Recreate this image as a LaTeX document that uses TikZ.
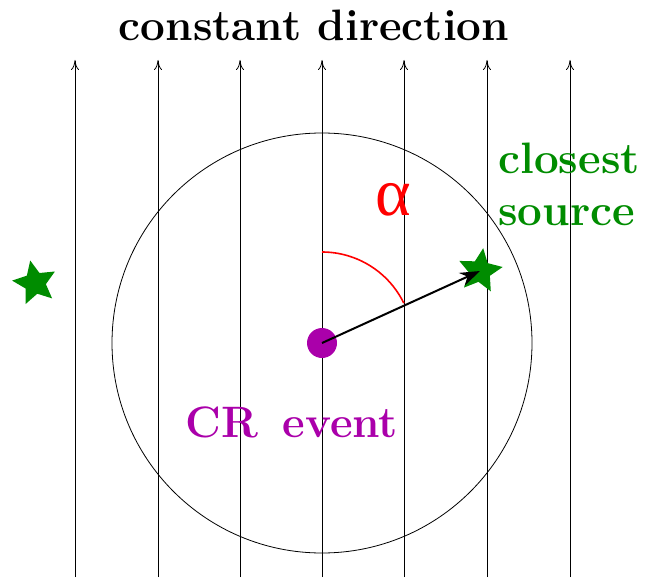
\documentclass[tikz,border=0pt]{standalone}
\usepackage{fontspec}
\newfontfamily\greekfont{Liberation Serif}
\usetikzlibrary{shapes.geometric, arrows.meta, positioning, calc}
\definecolor{srcgreen}{RGB}{0, 140, 0}
\definecolor{crpurple}{RGB}{170, 0, 170}
\definecolor{alphared}{RGB}{255, 0, 0}

\begin{document}
\begin{tikzpicture}[x=0.5pt, y=-0.5pt,
  srcstar/.style={star, star points=5, star point ratio=2.1, fill=srcgreen, minimum size=23pt, inner sep=0pt},
  bigtext/.style={font=\fontsize{22}{26}\selectfont\bfseries}]
  \useasboundingbox (0,0) rectangle (646,577);

  % 平行方向线
  \foreach \x in {75, 158, 240, 322, 404, 487, 570}
    \draw[-{To[length=5pt, width=4pt]}] (\x, 577) -- (\x, 60);
  \node[bigtext] (title) at (314, 25) {constant direction};

  % 圆
  \draw (322, 343) circle (210);

  % 角度弧
  \draw[alphared, line width=0.8pt] (322, 252) arc[start angle=-90, end angle=-26, radius=91];
  \node[alphared, font=\fontsize{34}{38}\selectfont\greekfont] (alpha) at (393, 200) {α};

  % 事件与源
  \node[circle, fill=crpurple, minimum size=15pt, inner sep=0pt] (event) at (322, 343) {};
  \node[bigtext, crpurple] (eventlabel) at (292, 422) {CR\hspace{4pt} event};
  \node[srcstar, rotate=-8] (closest) at (480, 271) {};
  \node[srcstar, rotate=12] (far) at (35, 283) {};
  \node[bigtext, srcgreen, align=left, anchor=west, inner sep=0pt] (closestlabel) at (498, 184) {closest\\source};

  % 指向最近源
  \draw[line width=1pt, -{Stealth[length=10pt, width=7pt]}] (event.center) -- (closest.center);
\end{tikzpicture}
\end{document}
